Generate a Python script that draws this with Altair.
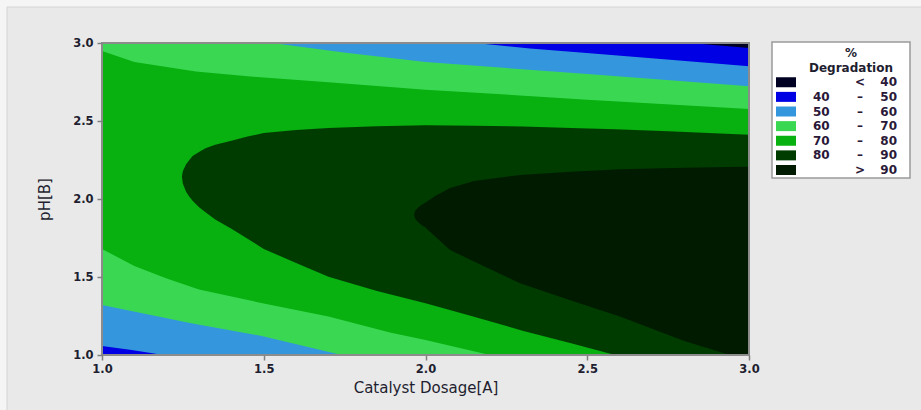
import altair as alt
import pandas as pd

# Response levels (% degradation) and their fill colours
LEVELS = ["< 40", "40 – 50", "50 – 60", "60 – 70", "70 – 80", "80 – 90", "> 90"]
COLORS = ["#000022", "#0000E4", "#3497DD", "#3AD852", "#08B010", "#003C00", "#001B00"]

# Contour lines of the response surface: Catalyst Dosage [A] vs pH [B]
# upper contours (region runs from the line up to pH 3.0)
top70_a = [1.0, 1.1, 1.29, 1.49, 1.70, 2.0, 2.5, 3.0]
top70_b = [2.948, 2.878, 2.818, 2.780, 2.748, 2.701, 2.637, 2.577]
top60_a = [1.525, 1.76, 2.0, 2.5, 3.0]
top60_b = [3.0, 2.936, 2.878, 2.801, 2.722]
top50_a = [2.153, 2.323, 2.498, 2.756, 3.0]
top50_b = [3.0, 2.964, 2.936, 2.893, 2.851]
top40_a = [2.818, 3.0]
top40_b = [3.0, 2.968]

# lower contours (region runs from pH 1.0 up to the line)
bot70_a = [1.0, 1.1, 1.2, 1.3, 1.5, 1.7, 1.89, 2.0, 2.199]
bot70_b = [1.68, 1.57, 1.49, 1.42, 1.33, 1.246, 1.145, 1.096, 1.0]
bot60_a = [1.0, 1.272, 1.494, 1.741]
bot60_b = [1.321, 1.205, 1.122, 1.0]
bot50_a = [1.0, 1.092, 1.190]
bot50_b = [1.058, 1.032, 1.0]

# closed 80 % contour: lower and upper branch at each dosage
c80_a = [1.247, 1.25, 1.26, 1.27, 1.28, 1.30, 1.32, 1.35, 1.40, 1.45, 1.50, 1.60,
         1.70, 1.85, 2.0, 2.15, 2.30, 2.45, 2.586, 2.75, 3.0]
c80_lo = [2.145, 2.098, 2.047, 2.015, 1.989, 1.947, 1.915, 1.869, 1.809, 1.745, 1.68, 1.59,
          1.502, 1.41, 1.331, 1.245, 1.156, 1.075, 1.0, 1.0, 1.0]
c80_hi = [2.145, 2.18, 2.222, 2.25, 2.275, 2.302, 2.325, 2.347, 2.373, 2.40, 2.423, 2.443,
          2.455, 2.466, 2.472, 2.47, 2.465, 2.455, 2.447, 2.435, 2.412]

# closed 90 % contour
c90_a = [1.965, 1.967, 1.97, 1.98, 1.99, 1.998, 2.03, 2.076, 2.15, 2.292, 2.45, 2.601,
         2.8, 2.941, 3.0]
c90_lo = [1.90, 1.881, 1.869, 1.846, 1.83, 1.82, 1.76, 1.673, 1.60, 1.46, 1.35, 1.246,
          1.09, 1.0, 1.0]
c90_hi = [1.90, 1.919, 1.929, 1.95, 1.965, 1.975, 2.02, 2.07, 2.115, 2.154, 2.175, 2.19,
          2.20, 2.205, 2.207]

# legend text columns
LEG_LOW = ["", "40", "50", "60", "70", "80", ""]
LEG_SEP = ["<", "–", "–", "–", "–", "–", ">"]
LEG_HIGH = ["40", "50", "60", "70", "80", "90", "90"]
LEG_TITLE = ["%", "Degradation"]

FONT = "DejaVu Sans"
TEXT = "#1e1e30"
LEG_TEXT = "#2a1838"
TICKS = [1.0, 1.5, 2.0, 2.5, 3.0]

x_enc = alt.X(
    "A:Q",
    scale=alt.Scale(domain=[1.0, 3.0], nice=False, zero=False),
    axis=alt.Axis(values=TICKS, format=".1f", title="Catalyst Dosage[A]",
                  labelFlush=False, labelPadding=3, titlePadding=6, zindex=1),
)
y_enc = alt.Y(
    "lo:Q",
    scale=alt.Scale(domain=[1.0, 3.0], nice=False, zero=False),
    axis=alt.Axis(values=TICKS, format=".1f", title="pH[B]",
                  labelPadding=4, titlePadding=20, zindex=1),
)
color_enc = alt.Color("level:N", scale=alt.Scale(domain=LEVELS, range=COLORS), legend=None)


def band(level, a, lo, hi):
    df = pd.DataFrame({"A": a, "lo": lo, "hi": hi, "level": level})
    return alt.Chart(df).mark_area(orient="vertical", interpolate="linear", clip=True).encode(
        x=x_enc, y=y_enc, y2="hi:Q", color=color_enc
    )


def upper(level, a, b):
    return band(level, a, b, [3.0] * len(a))


def lower(level, a, b):
    return band(level, a, [1.0] * len(a), b)


one = pd.DataFrame({"k": [0]})

# plot frame drawn over the filled contours
frame = alt.Chart(one).mark_rect(filled=False, stroke="#8c8c8c", strokeWidth=2).encode(
    x=alt.value(0), x2=alt.value(647), y=alt.value(0), y2=alt.value(312)
)

surface = alt.layer(
    band("70 – 80", [1.0, 3.0], [1.0, 1.0], [3.0, 3.0]),
    upper("60 – 70", top70_a, top70_b),
    upper("50 – 60", top60_a, top60_b),
    upper("40 – 50", top50_a, top50_b),
    upper("< 40", top40_a, top40_b),
    lower("60 – 70", bot70_a, bot70_b),
    lower("50 – 60", bot60_a, bot60_b),
    lower("40 – 50", bot50_a, bot50_b),
    band("80 – 90", c80_a, c80_lo, c80_hi),
    band("> 90", c90_a, c90_lo, c90_hi),
    frame,
)

# Legend panel to the right of the plot
ROWS = LEG_TITLE + LEVELS
row_enc = alt.Y("row:N", scale=alt.Scale(domain=ROWS, range=[10, 127], padding=0), axis=None)
leg_df = pd.DataFrame({"row": LEVELS, "level": LEVELS, "low": LEG_LOW, "sep": LEG_SEP, "high": LEG_HIGH})
title_df = pd.DataFrame({"row": LEG_TITLE})
leg_font = dict(font=FONT, fontSize=12, fontWeight="bold")

legend_box = alt.Chart(one).mark_rect(fill="white", stroke="#9a9a9a", strokeWidth=1.5).encode(
    x=alt.value(670), x2=alt.value(808), y=alt.value(-1), y2=alt.value(135)
)
swatches = alt.Chart(leg_df).mark_point(
    shape="M-1,-0.5H1V0.5H-1Z", size=400, filled=True, opacity=1
).encode(x=alt.value(684), y=row_enc, color=color_enc)
leg_title = alt.Chart(title_df).mark_text(color=TEXT, align="center", **leg_font).encode(
    x=alt.value(749), y=row_enc, text="row:N"
)
leg_low = alt.Chart(leg_df).mark_text(color=LEG_TEXT, align="left", **leg_font).encode(
    x=alt.value(711), y=row_enc, text="low:N"
)
leg_sep = alt.Chart(leg_df).mark_text(color=LEG_TEXT, align="center", **leg_font).encode(
    x=alt.value(758), y=row_enc, text="sep:N"
)
leg_high = alt.Chart(leg_df).mark_text(color=LEG_TEXT, align="right", **leg_font).encode(
    x=alt.value(795), y=row_enc, text="high:N"
)
legend = alt.layer(legend_box, swatches, leg_title, leg_low, leg_sep, leg_high)

# grey panel behind the figure, inset from the page edge
panel = alt.Chart(one).mark_rect(fill="#e9e9e9", stroke="#d4d4d4", strokeWidth=1).encode(
    x=alt.value(-95), x2=alt.value(830), y=alt.value(-36), y2=alt.value(380)
)

chart = (
    alt.layer(panel, surface, legend)
    .resolve_scale(y="independent")
    .properties(
        width=647,
        height=312,
        autosize=alt.AutoSizeParams(type="none"),
        padding={"left": 102, "top": 43, "right": 172, "bottom": 55},
        background="#f5f5f5",
    )
    .configure_view(strokeWidth=0)
    .configure_axis(
        domain=False,
        grid=False,
        tickColor="#808080",
        tickSize=5,
        tickWidth=1.5,
        labelFont=FONT,
        labelFontSize=11.5,
        labelFontWeight="bold",
        labelColor=TEXT,
        titleFont=FONT,
        titleFontSize=15,
        titleFontWeight="normal",
        titleColor=TEXT,
    )
)

chart.save("out.html", embed_options={"renderer": "svg", "actions": False})
